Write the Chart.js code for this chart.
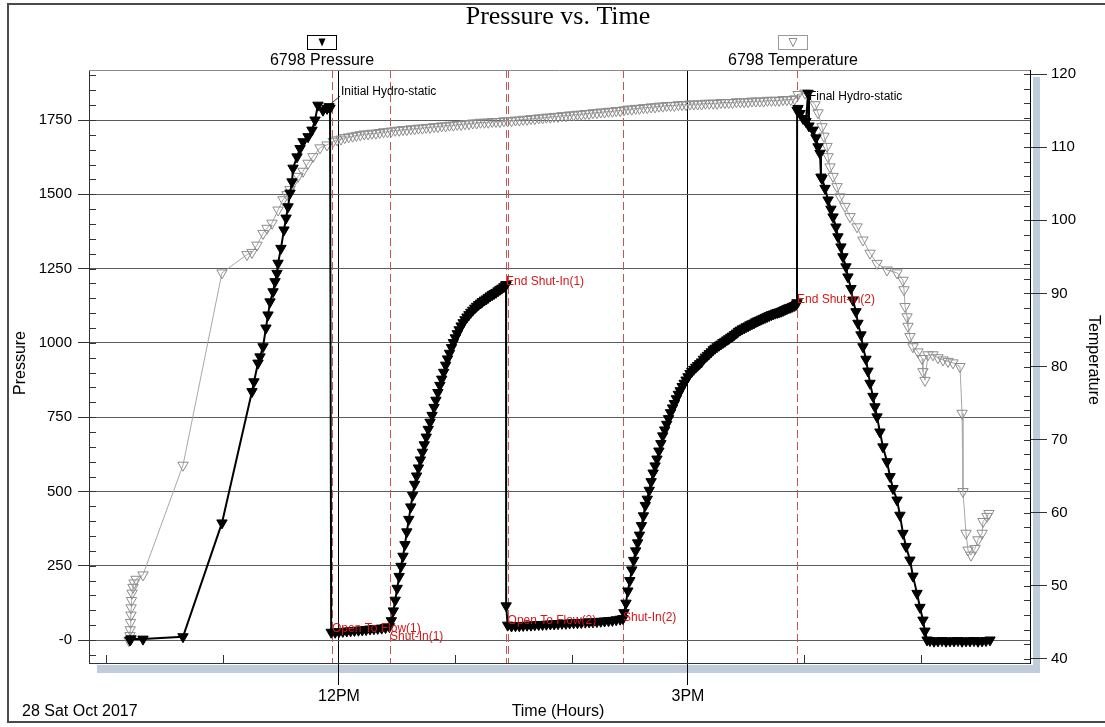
<!DOCTYPE html>
<html>
<head>
<meta charset="utf-8">
<title>Pressure vs. Time</title>
<script src="https://cdn.jsdelivr.net/npm/chart.js@4.4.1/dist/chart.umd.min.js"></script>
<style>
  html, body { margin: 0; padding: 0; background: #fff; }
  #wrap { position: relative; width: 1105px; height: 727px; }
</style>
</head>
<body>
<div id="wrap"><canvas id="chart" width="1105" height="727"></canvas></div>
<script>
// Gauge 6798, 28 Oct 2017. Time in decimal hours of the day.
const pressTime = [
  // run in
  10.203, 10.212, 10.315, 10.659, 10.994, 11.252, 11.269, 11.304, 11.321, 11.347,
  11.372, 11.390, 11.407, 11.433, 11.450, 11.467, 11.476, 11.501, 11.527, 11.545,
  11.562, 11.579, 11.596, 11.605, 11.639, 11.665, 11.691, 11.734, 11.768, 11.794,
  11.819, 11.862, 11.897, 11.914, 11.923,
  // flow 1
  11.933, 11.967, 12.000, 12.033, 12.067, 12.100, 12.133, 12.167, 12.200, 12.233,
  12.267, 12.300, 12.333, 12.367, 12.400, 12.433,
  // shut-in 1
  12.450, 12.467, 12.483, 12.500, 12.517, 12.533, 12.550, 12.567, 12.583, 12.600,
  12.617, 12.633, 12.650, 12.667, 12.683, 12.700, 12.717, 12.733, 12.750, 12.767,
  12.783, 12.800, 12.817, 12.833, 12.850, 12.867, 12.883, 12.900, 12.917, 12.933,
  12.950, 12.967, 12.983, 13.000, 13.017, 13.033, 13.050, 13.067, 13.083, 13.100,
  13.117, 13.133, 13.150, 13.167, 13.183, 13.200, 13.217, 13.233, 13.250, 13.267,
  13.283, 13.300, 13.317, 13.333, 13.350, 13.367, 13.383, 13.400, 13.417, 13.433,
  13.436, 13.437,
  // flow 2
  13.450, 13.483, 13.517, 13.550, 13.583, 13.617, 13.650, 13.683, 13.717, 13.750,
  13.783, 13.817, 13.850, 13.883, 13.917, 13.950, 13.983, 14.017, 14.050, 14.083,
  14.117, 14.150, 14.183, 14.217, 14.250, 14.283, 14.317, 14.350, 14.383, 14.417,
  // shut-in 2
  14.441,
  14.450, 14.467, 14.483, 14.500, 14.517, 14.533, 14.550, 14.567, 14.583, 14.600,
  14.617, 14.633, 14.650, 14.667, 14.683, 14.700, 14.717, 14.733, 14.750, 14.767,
  14.783, 14.800, 14.817, 14.833, 14.850, 14.867, 14.883, 14.900, 14.917, 14.933,
  14.950, 14.967, 14.983, 15.000, 15.017, 15.033, 15.050, 15.067, 15.083, 15.100,
  15.117, 15.133, 15.150, 15.167, 15.183, 15.200, 15.217, 15.233, 15.250, 15.267,
  15.283, 15.300, 15.317, 15.333, 15.350, 15.367, 15.383, 15.400, 15.417, 15.433,
  15.450, 15.467, 15.483, 15.500, 15.517, 15.533, 15.550, 15.567, 15.583, 15.600,
  15.617, 15.633, 15.650, 15.667, 15.683, 15.700, 15.717, 15.733, 15.750, 15.767,
  15.783, 15.800, 15.817, 15.833, 15.850, 15.867, 15.883, 15.900, 15.917, 15.933,
  15.937, 15.938,
  // pull out
  15.946, 15.963, 15.989, 16.014, 16.032, 16.040, 16.075, 16.100, 16.118, 16.135,
  16.143, 16.152, 16.178, 16.204, 16.229, 16.247, 16.272, 16.289, 16.315, 16.332,
  16.358, 16.375, 16.401, 16.418, 16.444, 16.461, 16.487, 16.504, 16.530, 16.547,
  16.565, 16.590, 16.607, 16.625, 16.650, 16.676, 16.711, 16.737, 16.762, 16.797,
  16.822, 16.848, 16.874, 16.908, 16.934, 16.969, 16.994, 17.020, 17.037, 17.055,
  17.080, 17.115, 17.149, 17.184, 17.218, 17.252, 17.287, 17.321, 17.356, 17.390,
  17.424, 17.459, 17.493, 17.528, 17.562, 17.596
];
const pressValue = [
  0, 4, 3, 11, 394, 836, 869, 932, 953, 987,
  1050, 1094, 1138, 1172, 1206, 1234, 1268, 1318, 1380, 1420,
  1458, 1504, 1542, 1588, 1626, 1654, 1677, 1694, 1716, 1750,
  1800, 1783, 1789, 1795, 1790,
  26, 26, 28, 29, 30, 31, 32, 33, 34, 35,
  37, 38, 39, 40, 42, 45,
  65, 98, 134, 174, 214, 248, 282, 321, 364, 406,
  448, 487, 524, 552, 579, 606, 632, 657, 683, 709,
  733, 756, 783, 807, 833, 857, 878, 901, 925, 946,
  965, 984, 1001, 1017, 1031, 1044, 1057, 1068, 1078, 1087,
  1095, 1103, 1110, 1117, 1123, 1129, 1134, 1139, 1144, 1148,
  1153, 1158, 1162, 1166, 1170, 1175, 1180, 1184, 1189, 1194,
  1196, 115,
  50, 47, 48, 48, 49, 50, 50, 51, 52, 52,
  53, 54, 54, 55, 56, 56, 57, 58, 58, 59,
  60, 61, 61, 62, 63, 64, 65, 66, 68, 70,
  72,
  92, 124, 165, 200, 236, 268, 300, 327, 353, 385,
  418, 453, 474, 504, 533, 562, 586, 609, 636, 661,
  687, 707, 726, 745, 765, 781, 796, 812, 827, 839,
  853, 864, 875, 886, 897, 904, 911, 918, 924, 930,
  936, 945, 952, 958, 964, 970, 977, 982, 987, 992,
  996, 1001, 1005, 1010, 1014, 1019, 1023, 1028, 1033, 1039,
  1043, 1047, 1050, 1054, 1057, 1061, 1064, 1067, 1071, 1074,
  1077, 1080, 1083, 1086, 1089, 1092, 1095, 1097, 1100, 1102,
  1104, 1106, 1109, 1112, 1115, 1118, 1120, 1123, 1126, 1130,
  1135, 1783,
  1789, 1772, 1755, 1745, 1840, 1730, 1716, 1690, 1660, 1638,
  1558, 1553, 1520, 1481, 1450, 1424, 1390, 1357, 1323, 1290,
  1256, 1222, 1183, 1144, 1105, 1066, 1027, 987, 945, 905,
  864, 820, 785, 751, 700, 650, 600, 550, 510, 471,
  420, 359, 315, 269, 215, 157, 110, 67, 30, 0,
  -2, -4, -3, -2, -4, -3, -3, -2, -4, -3,
  -3, -2, -4, -3, -2, 0
];

const tempTime = [
  // run in
  10.195, 10.203, 10.205, 10.208, 10.212, 10.213, 10.216, 10.221, 10.229, 10.238,
  10.255, 10.315, 10.659, 10.994, 11.209, 11.252, 11.295, 11.347, 11.381, 11.424,
  11.476, 11.519, 11.553, 11.579, 11.605, 11.648, 11.691, 11.734, 11.776, 11.837,
  11.897,
  // on bottom
  11.950, 11.983, 12.017, 12.050, 12.083, 12.117, 12.150, 12.183, 12.217, 12.250,
  12.283, 12.317, 12.350, 12.383, 12.417, 12.450, 12.483, 12.517, 12.550, 12.583,
  12.617, 12.650, 12.683, 12.717, 12.750, 12.783, 12.817, 12.850, 12.883, 12.917,
  12.950, 12.983, 13.017, 13.050, 13.083, 13.117, 13.150, 13.183, 13.217, 13.250,
  13.283, 13.317, 13.350, 13.383, 13.417, 13.450, 13.483, 13.517, 13.550, 13.583,
  13.617, 13.650, 13.683, 13.717, 13.750, 13.783, 13.817, 13.850, 13.883, 13.917,
  13.950, 13.983, 14.017, 14.050, 14.083, 14.117, 14.150, 14.183, 14.217, 14.250,
  14.283, 14.317, 14.350, 14.383, 14.417, 14.450, 14.483, 14.517, 14.550, 14.583,
  14.617, 14.650, 14.683, 14.717, 14.750, 14.783, 14.817, 14.850, 14.883, 14.917,
  14.950, 14.983, 15.017, 15.050, 15.083, 15.117, 15.150, 15.183, 15.217, 15.250,
  15.283, 15.317, 15.350, 15.383, 15.417, 15.450, 15.483, 15.517, 15.550, 15.583,
  15.617, 15.650, 15.683, 15.717, 15.750, 15.783, 15.817, 15.850, 15.883, 15.917,
  // pull out
  15.946, 16.006, 16.092, 16.118, 16.152, 16.169, 16.195, 16.204, 16.221, 16.247,
  16.281, 16.307, 16.350, 16.393, 16.453, 16.504, 16.565, 16.625, 16.711, 16.797,
  16.848, 16.857, 16.866, 16.883, 16.891, 16.908, 16.934, 16.977, 17.012, 17.020,
  17.037, 17.063, 17.106, 17.149, 17.192, 17.235, 17.278, 17.338, 17.356, 17.364,
  17.390, 17.407, 17.433, 17.467, 17.493, 17.528, 17.536, 17.570, 17.587
];
const tempValue = [
  42.5, 43.2, 44.0, 45.0, 46.0, 47.0, 48.0, 49.0, 49.8, 50.4,
  50.9, 51.5, 66.5, 92.8, 95.3, 95.6, 96.6, 98.2, 98.9, 99.6,
  101.4, 102.8, 103.5, 104.2, 105.1, 106.0, 106.7, 107.8, 108.7, 109.9,
  110.3,
  110.8, 111.0, 111.1, 111.3, 111.4, 111.5, 111.6, 111.7, 111.8, 111.8,
  111.9, 111.9, 112.0, 112.1, 112.1, 112.2, 112.3, 112.3, 112.4, 112.4,
  112.5, 112.5, 112.6, 112.6, 112.7, 112.7, 112.8, 112.8, 112.9, 112.9,
  113.0, 113.0, 113.1, 113.1, 113.2, 113.2, 113.3, 113.3, 113.4, 113.4,
  113.4, 113.5, 113.5, 113.5, 113.6, 113.6, 113.6, 113.7, 113.7, 113.8,
  113.8, 113.9, 113.9, 114.0, 114.0, 114.1, 114.1, 114.2, 114.2, 114.3,
  114.3, 114.4, 114.4, 114.5, 114.5, 114.6, 114.6, 114.7, 114.7, 114.8,
  114.8, 114.9, 114.9, 115.0, 115.0, 115.1, 115.2, 115.2, 115.3, 115.3,
  115.4, 115.4, 115.5, 115.5, 115.6, 115.6, 115.7, 115.7, 115.7, 115.8,
  115.8, 115.8, 115.9, 115.9, 115.9, 115.9, 116.0, 116.0, 116.0, 116.0,
  116.1, 116.1, 116.1, 116.1, 116.2, 116.2, 116.2, 116.2, 116.3, 116.3,
  116.3, 116.3, 116.4, 116.4, 116.4, 116.4, 116.5, 116.5, 116.5, 116.6,
  117.2, 117.4, 115.8, 114.7, 112.8, 111.5, 110.1, 108.7, 107.3, 106.0,
  104.6, 103.2, 101.9, 100.5, 99.1, 97.3, 95.5, 94.1, 93.2, 92.8,
  91.8, 90.5, 88.2, 86.8, 85.5, 84.1, 82.7, 82.0, 81.1, 79.3,
  78.1, 81.6, 81.6, 81.2, 80.9, 80.7, 80.5, 80.0, 73.6, 62.9,
  57.2, 54.9, 54.2, 55.1, 56.3, 57.2, 58.8, 59.5, 59.9
];

// Axis ticks
const hourTicks = [10, 11, 12, 13, 14, 15, 16, 17];
const hourLabels = { 12: "12PM", 15: "3PM" };
const pressTicks = [0, 250, 500, 750, 1000, 1250, 1500, 1750];
const pressMinor = 50;
const tempTicks = [40, 50, 60, 70, 80, 90, 100, 110, 120];
const tempMinor = 2;

// Test events (red markers)
const eventTimes = [11.940, 12.438, 13.436, 13.449, 14.441, 15.937];
const eventLabels = ["Open To Flow(1)", "Shut-In(1)", "End Shut-In(1)", "Open To Flow(2)", "Shut-In(2)", "End Shut-In(2)"];
const eventLabelPress = [39, 11, 1206, 65, 76, 1144];

const hydroLabels = ["Initial Hydro-static", "Final Hydro-static"];
const hydroTimes = [11.914, 15.946];
const hydroPress = [1795, 1789];
const hydroLabelTimes = [12.017, 16.040];
const hydroLabelPress = [1844, 1830];

const COLORS = {
  press: "#000000",
  temp: "#8c8c8c",
  tempLine: "#a8a8a8",
  grid: "#5c5c5c",
  event: "#c75454",
  eventText: "#d01818",
  shadow: "#bfccd9",
};

const SANS = '"Liberation Sans", Arial, sans-serif';
Chart.defaults.font.family = SANS;
Chart.defaults.color = "#000";

function line(ctx, x1, y1, x2, y2) {
  ctx.beginPath();
  ctx.moveTo(x1, y1);
  ctx.lineTo(x2, y2);
  ctx.stroke();
}

function downTriangle(ctx, cx, cy, w, h, fill, stroke) {
  ctx.beginPath();
  ctx.moveTo(cx - w / 2, cy - h / 2);
  ctx.lineTo(cx + w / 2, cy - h / 2);
  ctx.lineTo(cx, cy + h / 2);
  ctx.closePath();
  if (fill) { ctx.fillStyle = fill; ctx.fill(); }
  if (stroke) { ctx.strokeStyle = stroke; ctx.lineWidth = 1; ctx.stroke(); }
}

const decorPlugin = {
  id: "decor",
  beforeDraw(chart) {
    const { ctx, chartArea: a } = chart;
    ctx.save();
    ctx.fillStyle = "#fff";
    ctx.fillRect(0, 0, chart.width, chart.height);
    // 3D shadow of the plot box
    ctx.fillStyle = COLORS.shadow;
    ctx.fillRect(a.right + 3, a.top + 7, 7, a.bottom - a.top + 2);
    ctx.fillRect(a.left + 8, a.bottom + 2, a.right - a.left + 2, 8);
    ctx.restore();
  },
  beforeDatasetsDraw(chart) {
    const { ctx, chartArea: a, scales } = chart;
    const x = scales.x, y = scales.y, y1 = scales.y1;
    ctx.save();
    // red dashed event lines
    ctx.strokeStyle = COLORS.event;
    ctx.lineWidth = 1;
    ctx.setLineDash([8, 4]);
    eventTimes.forEach(t => {
      const px = Math.round(x.getPixelForValue(t)) + 0.5;
      line(ctx, px, a.top, px, a.bottom);
    });
    ctx.setLineDash([]);
    // minor ticks on the inside of the box
    ctx.strokeStyle = "#333";
    for (let v = Math.ceil(y.min / pressMinor) * pressMinor; v <= y.max; v += pressMinor) {
      const py = Math.round(y.getPixelForValue(v)) + 0.5;
      line(ctx, a.left, py, a.left + 7, py);
    }
    for (let v = tempTicks[0]; v <= tempTicks[tempTicks.length - 1]; v += tempMinor) {
      const py = Math.round(y1.getPixelForValue(v)) + 0.5;
      line(ctx, a.right - 6, py, a.right, py);
    }
    hourTicks.forEach(h => {
      if (hourLabels[h]) return;
      const px = Math.round(x.getPixelForValue(h)) + 0.5;
      line(ctx, px, a.bottom - 8, px, a.bottom);
    });
    // top edge of the plot box
    ctx.strokeStyle = "#8a8a8a";
    line(ctx, a.left, a.top + 0.5, a.right, a.top + 0.5);
    ctx.restore();
  },
  afterDatasetsDraw(chart) {
    const { ctx, scales } = chart;
    const x = scales.x, y = scales.y;
    ctx.save();
    ctx.font = "12px " + SANS;
    ctx.textBaseline = "middle";
    ctx.textAlign = "left";
    ctx.fillStyle = COLORS.eventText;
    eventLabels.forEach((lab, i) => {
      ctx.fillText(lab, x.getPixelForValue(eventTimes[i]), y.getPixelForValue(eventLabelPress[i]));
    });
    ctx.fillStyle = "#000";
    ctx.strokeStyle = "#000";
    ctx.lineWidth = 0.8;
    hydroLabels.forEach((lab, i) => {
      const tx = x.getPixelForValue(hydroLabelTimes[i]);
      const ty = y.getPixelForValue(hydroLabelPress[i]);
      if (i === 0) {
        line(ctx, x.getPixelForValue(hydroTimes[i]) + 1, y.getPixelForValue(hydroPress[i]) - 2, tx - 1, ty + 4);
      }
      ctx.fillText(lab, tx, ty);
    });
    ctx.restore();
  },
  afterDraw(chart) {
    const { ctx } = chart;
    ctx.save();
    // outer frame
    ctx.strokeStyle = "#4a4a4a";
    ctx.lineWidth = 2;
    ctx.beginPath();
    ctx.moveTo(1105, 4);
    ctx.lineTo(8, 4);
    ctx.lineTo(8, 722);
    ctx.lineTo(1105, 722);
    ctx.stroke();

    ctx.fillStyle = "#000";
    ctx.textAlign = "center";
    ctx.textBaseline = "middle";
    ctx.font = '26px "Liberation Serif", "Times New Roman", serif';
    ctx.fillText("Pressure vs. Time", 558, 17);

    // legend: symbol box above each name
    ctx.lineWidth = 1;
    ctx.strokeStyle = "#000";
    ctx.strokeRect(307.5, 35.5, 29, 14);
    downTriangle(ctx, 322, 42.5, 7, 8, "#000", null);
    ctx.strokeStyle = "#9a9a9a";
    ctx.strokeRect(778.5, 35.5, 29, 14);
    downTriangle(ctx, 793, 42.5, 8, 8, null, COLORS.temp);

    ctx.font = "16px " + SANS;
    ctx.fillText("6798 Pressure", 322, 61);
    ctx.fillText("6798 Temperature", 793, 61);
    ctx.fillText("Time (Hours)", 558, 712);
    ctx.textAlign = "left";
    ctx.fillText("28 Sat Oct 2017", 22, 712);

    ctx.textAlign = "center";
    ctx.save();
    ctx.translate(21, 363);
    ctx.rotate(-Math.PI / 2);
    ctx.fillText("Pressure", 0, 0);
    ctx.restore();
    ctx.save();
    ctx.translate(1093, 360);
    ctx.rotate(Math.PI / 2);
    ctx.fillText("Temperature", 0, 0);
    ctx.restore();
    ctx.restore();
  },
};

const isMajorHour = (c) => c.tick && hourLabels[c.tick.value] !== undefined;

new Chart(document.getElementById("chart"), {
  type: "scatter",
  data: {
    datasets: [
      {
        label: "6798 Pressure",
        data: pressTime.map((t, i) => ({ x: t, y: pressValue[i] })),
        yAxisID: "y",
        showLine: true,
        borderColor: COLORS.press,
        borderWidth: 2,
        pointStyle: "triangle",
        pointRotation: 180,
        pointRadius: 6,
        pointBackgroundColor: COLORS.press,
        pointBorderColor: COLORS.press,
        pointBorderWidth: 1,
      },
      {
        label: "6798 Temperature",
        data: tempTime.map((t, i) => ({ x: t, y: tempValue[i] })),
        yAxisID: "y1",
        showLine: true,
        borderColor: COLORS.tempLine,
        borderWidth: 1,
        pointStyle: "triangle",
        pointRotation: 180,
        pointRadius: 6,
        pointBackgroundColor: "rgba(0,0,0,0)",
        pointBorderColor: COLORS.temp,
        pointBorderWidth: 1,
      },
    ],
  },
  options: {
    responsive: false,
    animation: false,
    layout: { padding: { top: 70, left: 0, right: 0, bottom: 0 } },
    plugins: {
      legend: { display: false },
      tooltip: { enabled: false },
      title: { display: false },
    },
    scales: {
      x: {
        type: "linear",
        min: 9.851,
        max: 17.94,
        afterBuildTicks: (s) => { s.ticks = hourTicks.map(v => ({ value: v })); },
        afterFit: (s) => { s.height = 64; },
        border: { color: "#333", width: 1 },
        grid: {
          color: (c) => isMajorHour(c) ? "#000" : "rgba(0,0,0,0)",
          tickColor: (c) => isMajorHour(c) ? "#000" : "rgba(0,0,0,0)",
          tickLength: 22,
          lineWidth: 1,
        },
        ticks: {
          autoSkip: false,
          maxRotation: 0,
          padding: 2,
          color: "#000",
          font: { size: 16 },
          callback: (v) => hourLabels[v] || "",
        },
      },
      y: {
        position: "left",
        min: -77.4,
        max: 1918.3,
        afterBuildTicks: (s) => { s.ticks = pressTicks.map(v => ({ value: v })); },
        afterFit: (s) => { s.width = 89; },
        border: { color: "#333", width: 1 },
        grid: { color: COLORS.grid, tickColor: "#333", tickLength: 11, lineWidth: 1 },
        ticks: {
          padding: 6,
          color: "#000",
          font: { size: 15 },
          callback: (v) => v === 0 ? "-0" : String(v),
        },
      },
      y1: {
        position: "right",
        min: 39.45,
        max: 120.55,
        afterBuildTicks: (s) => { s.ticks = tempTicks.map(v => ({ value: v })); },
        afterFit: (s) => { s.width = 75; },
        border: { color: "#000", width: 1 },
        grid: { drawOnChartArea: false, tickColor: "#333", tickLength: 17 },
        ticks: { padding: 4, color: "#000", font: { size: 15 } },
      },
    },
  },
  plugins: [decorPlugin],
});
</script>
</body>
</html>
